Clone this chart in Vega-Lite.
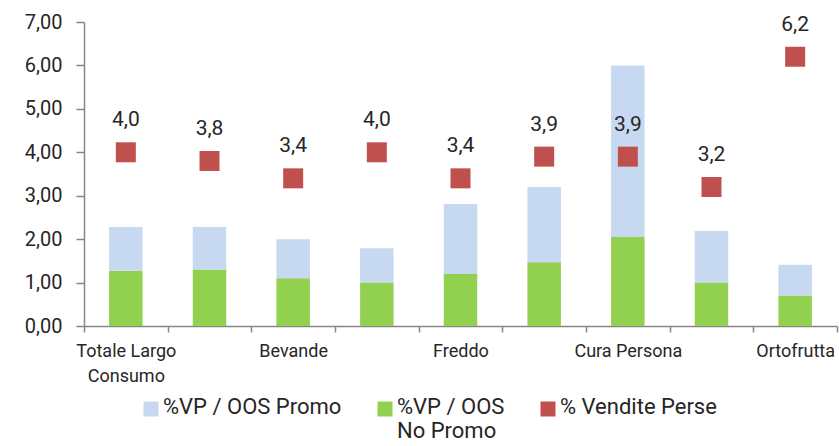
{
  "$schema": "https://vega.github.io/schema/vega-lite/v6.json",
  "autosize": {"type": "none"},
  "width": 753,
  "height": 304,
  "padding": {"left": 84, "top": 22, "right": 2, "bottom": 120},
  "config": {
    "font": "Roboto",
    "view": {"stroke": null},
    "locale": {"number": {"decimal": ",", "thousands": ".", "grouping": [3], "currency": ["€", ""]}},
    "legend": {"symbolType": "square"}
  },
  "data": {
    "values": [
      {"cat": "Totale Largo Consumo", "series": "%VP / OOS No Promo", "value": 1.27},
      {"cat": "Totale Largo Consumo", "series": "%VP / OOS Promo", "value": 1.01},
      {"cat": "Totale Largo Consumo", "series": "% Vendite Perse", "value": 4.0},
      {"cat": "Drogheria Alimentare", "series": "%VP / OOS No Promo", "value": 1.30},
      {"cat": "Drogheria Alimentare", "series": "%VP / OOS Promo", "value": 0.98},
      {"cat": "Drogheria Alimentare", "series": "% Vendite Perse", "value": 3.8},
      {"cat": "Bevande", "series": "%VP / OOS No Promo", "value": 1.10},
      {"cat": "Bevande", "series": "%VP / OOS Promo", "value": 0.90},
      {"cat": "Bevande", "series": "% Vendite Perse", "value": 3.4},
      {"cat": "Fresco", "series": "%VP / OOS No Promo", "value": 1.00},
      {"cat": "Fresco", "series": "%VP / OOS Promo", "value": 0.79},
      {"cat": "Fresco", "series": "% Vendite Perse", "value": 4.0},
      {"cat": "Freddo", "series": "%VP / OOS No Promo", "value": 1.20},
      {"cat": "Freddo", "series": "%VP / OOS Promo", "value": 1.61},
      {"cat": "Freddo", "series": "% Vendite Perse", "value": 3.4},
      {"cat": "Cura Casa", "series": "%VP / OOS No Promo", "value": 1.47},
      {"cat": "Cura Casa", "series": "%VP / OOS Promo", "value": 1.73},
      {"cat": "Cura Casa", "series": "% Vendite Perse", "value": 3.9},
      {"cat": "Cura Persona", "series": "%VP / OOS No Promo", "value": 2.05},
      {"cat": "Cura Persona", "series": "%VP / OOS Promo", "value": 3.95},
      {"cat": "Cura Persona", "series": "% Vendite Perse", "value": 3.9},
      {"cat": "Petcare", "series": "%VP / OOS No Promo", "value": 1.00},
      {"cat": "Petcare", "series": "%VP / OOS Promo", "value": 1.19},
      {"cat": "Petcare", "series": "% Vendite Perse", "value": 3.2},
      {"cat": "Ortofrutta", "series": "%VP / OOS No Promo", "value": 0.70},
      {"cat": "Ortofrutta", "series": "%VP / OOS Promo", "value": 0.71},
      {"cat": "Ortofrutta", "series": "% Vendite Perse", "value": 6.2}
    ]
  },
  "encoding": {
    "x": {
      "field": "cat",
      "type": "nominal",
      "sort": ["Totale Largo Consumo", "Drogheria Alimentare", "Bevande", "Fresco", "Freddo", "Cura Casa", "Cura Persona", "Petcare", "Ortofrutta"],
      "scale": {"paddingInner": 0, "paddingOuter": 0},
      "axis": {
        "title": null,
        "labelAngle": 0,
        "labelOverlap": false,
        "tickBand": "extent",
        "domainColor": "#868686",
        "domainWidth": 1.5,
        "tickColor": "#868686",
        "tickWidth": 1.5,
        "tickSize": 6,
        "labelPadding": 10,
        "labelFontSize": 18,
        "labelColor": "#262626",
        "labelLineHeight": 25,
        "labelExpr": "indexof(['Drogheria Alimentare','Fresco','Cura Casa','Petcare'], datum.value) >= 0 ? '' : (datum.value == 'Totale Largo Consumo' ? ['Totale Largo', 'Consumo'] : datum.value)"
      }
    }
  },
  "layer": [
    {
      "transform": [{"filter": "datum.series != '% Vendite Perse'"}],
      "mark": {"type": "bar", "width": {"band": 0.4}},
      "encoding": {
        "y": {
          "field": "value",
          "type": "quantitative",
          "stack": "zero",
          "scale": {"domain": [0, 7]},
          "axis": {
            "title": null,
            "values": [0, 1, 2, 3, 4, 5, 6, 7],
            "format": ".2f",
            "grid": false,
            "domainColor": "#868686",
            "domainWidth": 1.5,
            "tickColor": "#868686",
            "tickWidth": 1.5,
            "tickSize": 8,
            "labelPadding": 14,
            "labelFontSize": 20,
            "labelColor": "#262626"
          }
        },
        "order": {"field": "series", "sort": "ascending"},
        "color": {
          "field": "series",
          "type": "nominal",
          "scale": {
            "domain": ["%VP / OOS Promo", "%VP / OOS No Promo", "% Vendite Perse"],
            "range": ["#c6d9f1", "#92d050", "#c0504d"]
          },
          "legend": {
            "title": null,
            "orient": "none",
            "legendX": 56,
            "legendY": 376,
            "direction": "horizontal",
            "columns": 3,
            "symbolSize": 225,
            "symbolType": "square",
            "labelFontSize": 22,
            "labelColor": "#262626",
            "labelLineHeight": 28,
            "labelBaseline": "top",
            "labelOffset": 1,
            "labelLimit": 400,
            "columnPadding": 32,
            "labelExpr": "datum.value == '%VP / OOS No Promo' ? ['%VP / OOS', 'No Promo'] : [datum.value, ' ']",
            "encode": {
              "labels": {
                "update": {
                  "dy": {"value": -12}
                }
              }
            }
          }
        }
      }
    },
    {
      "transform": [{"filter": "datum.series == '% Vendite Perse'"}],
      "mark": {"type": "point", "shape": "square", "filled": true, "opacity": 1, "size": 400},
      "encoding": {
        "y": {"field": "value", "type": "quantitative"},
        "color": {"field": "series", "type": "nominal"}
      }
    },
    {
      "transform": [{"filter": "datum.series == '% Vendite Perse'"}],
      "mark": {"type": "text", "dy": -32, "fontSize": 21, "color": "#262626"},
      "encoding": {
        "y": {"field": "value", "type": "quantitative"},
        "text": {"field": "value", "type": "quantitative", "format": ".1f"}
      }
    }
  ]
}
